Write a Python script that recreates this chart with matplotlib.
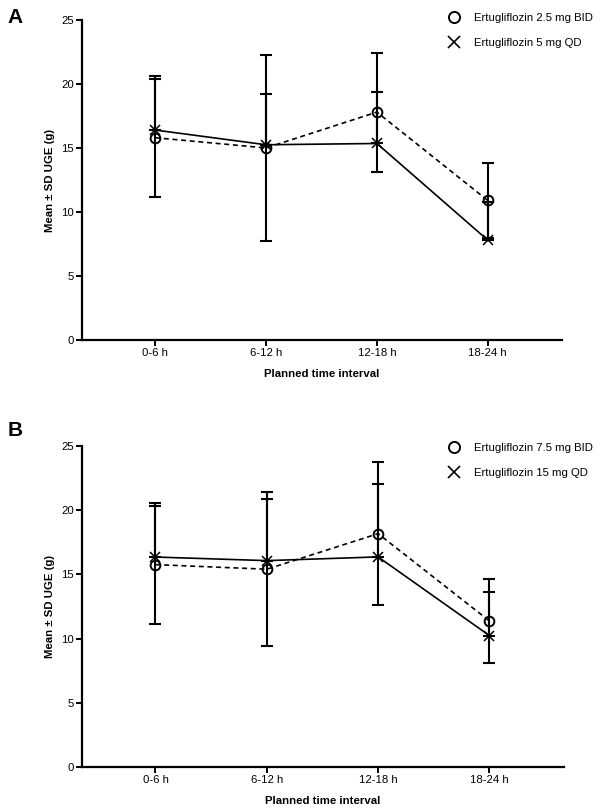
import numpy as np
import matplotlib.pyplot as plt
from matplotlib.lines import Line2D

plt.rcParams['font.family'] = ['Liberation Sans', 'DejaVu Sans']

intervals = ['0-6 h', '6-12 h', '12-18 h', '18-24 h']

# Panel A
a_bid_label = 'Ertugliflozin 2.5 mg BID'
a_bid_mean = [15.8, 15.0, 17.8, 10.9]
a_bid_sd = [4.6, 7.25, 4.65, 2.9]
a_qd_label = 'Ertugliflozin 5 mg QD'
a_qd_mean = [16.4, 15.25, 15.35, 7.8]
a_qd_sd = [4.2, 3.95, 4.05, 3.0]

# Panel B
b_bid_label = 'Ertugliflozin 7.5 mg BID'
b_bid_mean = [15.76, 15.4, 18.17, 11.37]
b_bid_sd = [4.6, 6.0, 5.55, 3.24]
b_qd_label = 'Ertugliflozin 15 mg QD'
b_qd_mean = [16.35, 16.07, 16.36, 10.23]
b_qd_sd = [4.2, 4.83, 5.68, 3.4]

fig = plt.figure(figsize=(6, 8.11), dpi=100)
ax_a = fig.add_axes([0.1367, 0.5808, 0.80, 0.3946])
ax_b = fig.add_axes([0.1367, 0.0543, 0.8033, 0.3958])


def draw_panel(ax, bid_mean, bid_sd, qd_mean, qd_sd, bid_label, qd_label, leg_y):
    x = np.arange(len(intervals))
    # BID: open circles, dashed line, full SD bars
    ax.errorbar(x, bid_mean, yerr=bid_sd, fmt='none', ecolor='black',
                elinewidth=1.5, capsize=4.5, capthick=1.5, zorder=2)
    ax.plot(x, bid_mean, color='black', linestyle=(0, (3, 2.2)), linewidth=1.2,
            marker='o', markersize=7, markerfacecolor='none',
            markeredgewidth=1.4, markeredgecolor='black', zorder=3)
    # QD: crosses, solid line, upper SD bars only
    ax.errorbar(x, qd_mean, yerr=[np.zeros(len(qd_sd)), qd_sd], fmt='none',
                ecolor='black', elinewidth=1.5, capsize=4.5, capthick=1.5, zorder=2)
    ax.plot(x, qd_mean, color='black', linestyle='-', linewidth=1.2,
            marker='x', markersize=7.5, markeredgewidth=1.1, zorder=3)

    ax.set_xlim(-0.66, 3.67)
    ax.set_ylim(0, 25)
    ax.set_yticks([0, 5, 10, 15, 20, 25])
    ax.set_xticks(x)
    ax.set_xticklabels(intervals)
    for s in ['top', 'right']:
        ax.spines[s].set_visible(False)
    for s in ['left', 'bottom']:
        ax.spines[s].set_linewidth(1.6)
    ax.tick_params(direction='out', length=4, width=1.4, labelsize=8.2, pad=2)
    ax.set_xlabel('Planned time interval', fontsize=8.2, fontweight='bold', labelpad=8)
    ax.set_ylabel('Mean \u00b1 SD UGE (g)', fontsize=8.2, fontweight='bold', labelpad=4)

    handles = [
        Line2D([], [], linestyle='none', marker='o', markersize=8,
               markerfacecolor='none', markeredgecolor='black', markeredgewidth=1.4),
        Line2D([], [], linestyle='none', marker='x', markersize=8,
               markeredgecolor='black', markeredgewidth=1.2),
    ]
    fig.legend(handles, [bid_label, qd_label], loc='upper left',
               bbox_to_anchor=(0.738, leg_y), frameon=False, fontsize=8.2,
               handlelength=1.2, handletextpad=1.1, labelspacing=1.3,
               borderaxespad=0)


draw_panel(ax_a, a_bid_mean, a_bid_sd, a_qd_mean, a_qd_sd, a_bid_label, a_qd_label, 0.9890)
draw_panel(ax_b, b_bid_mean, b_bid_sd, b_qd_mean, b_qd_sd, b_bid_label, b_qd_label, 0.4595)

fig.text(0.012, 0.979, 'A', fontsize=15, fontweight='bold', va='center', ha='left')
fig.text(0.012, 0.4690, 'B', fontsize=15, fontweight='bold', va='center', ha='left')

fig.savefig('out.png', dpi=100)
